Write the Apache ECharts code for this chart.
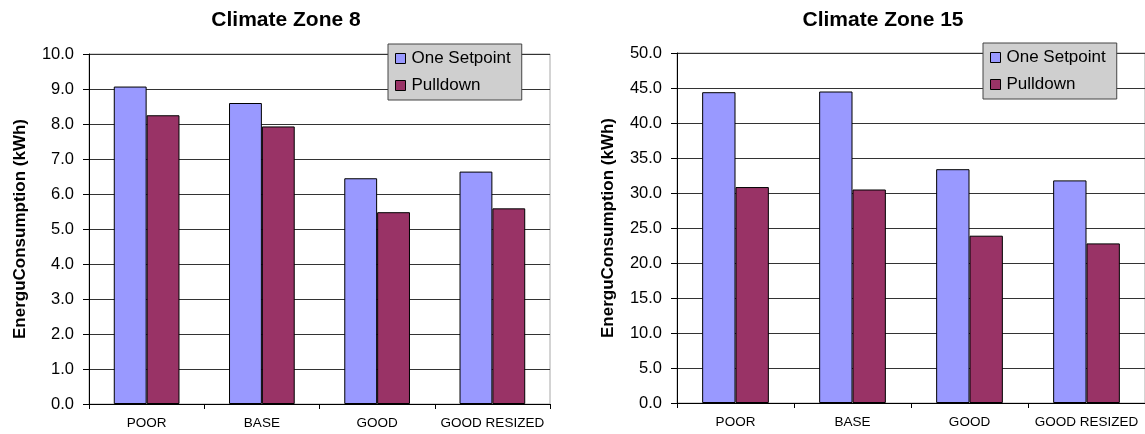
<!DOCTYPE html>
<html>
<head>
<meta charset="utf-8">
<script src="https://cdn.jsdelivr.net/npm/echarts@6/dist/echarts.min.js"></script>
<style>
html,body{margin:0;padding:0;background:#fff;}
#c{width:1145px;height:434px;}
</style>
</head>
<body>
<div id="c"></div>
<script>
const categories = ['POOR', 'BASE', 'GOOD', 'GOOD RESIZED'];
const seriesNames = ['One Setpoint', 'Pulldown'];
const zone8OneSetpoint = [9.07, 8.6, 6.45, 6.64];
const zone8Pulldown = [8.25, 7.93, 5.48, 5.59];
const zone15OneSetpoint = [44.4, 44.5, 33.4, 31.8];
const zone15Pulldown = [30.85, 30.5, 23.9, 22.8];
const titles = ['Climate Zone 8', 'Climate Zone 15'];
const yAxisName = 'EnerguConsumption (kWh)';

const FONT = '"Liberation Sans", Arial, sans-serif';
const colors = ['#9999FF', '#993366'];

function xAxis(gi) {
  return {
    type: 'category', gridIndex: gi, data: categories,
    axisLine: {lineStyle: {color: '#000', width: 1}},
    axisTick: {show: true, length: 5, alignWithLabel: false, lineStyle: {color: '#000'}},
    axisLabel: {color: '#000', fontFamily: FONT, fontSize: 13.5, margin: 12, interval: 0}
  };
}
function yAxis(gi, max, interval) {
  return {
    type: 'value', gridIndex: gi, min: 0, max: max, interval: interval,
    name: yAxisName, nameLocation: 'middle', nameGap: 60, nameRotate: 90,
    nameTextStyle: {color: '#000', fontFamily: FONT, fontSize: 17, fontWeight: 'bold'},
    axisLine: {show: true, lineStyle: {color: '#000', width: 1}},
    axisTick: {show: true, length: 6, lineStyle: {color: '#000'}},
    axisLabel: {color: '#000', fontFamily: FONT, fontSize: 16.5, margin: 15,
      formatter: v => v.toFixed(1)},
    splitLine: {show: true, lineStyle: {color: '#333', width: 1}}
  };
}
function bar(name, gi, data, color) {
  return {
    name: name, type: 'bar', xAxisIndex: gi, yAxisIndex: gi, data: data,
    barGap: '0%', barCategoryGap: '43%',
    itemStyle: {color: color, borderColor: '#000', borderWidth: 1},
    emphasis: {disabled: true}, animation: false
  };
}
function legend(left, top) {
  return {
    data: seriesNames, orient: 'vertical', left: left, top: top,
    backgroundColor: '#cfcfcf', borderColor: '#444', borderWidth: 1,
    padding: [6, 11, 6, 7], itemGap: 10, itemWidth: 10, itemHeight: 10,
    icon: 'rect', selectedMode: false,
    itemStyle: {borderColor: '#000', borderWidth: 1},
    textStyle: {color: '#000', fontFamily: FONT, fontSize: 17, padding: [0, 0, 0, 1]}
  };
}

const chart = echarts.init(document.getElementById('c'), null, {renderer: 'canvas'});
chart.setOption({
  backgroundColor: '#fff',
  animation: false,
  title: [
    {text: titles[0], left: 281, top: 5, textAlign: 'center',
      textStyle: {fontFamily: FONT, fontSize: 21, fontWeight: 'bold', color: '#000'}},
    {text: titles[1], left: 878, top: 5, textAlign: 'center',
      textStyle: {fontFamily: FONT, fontSize: 21, fontWeight: 'bold', color: '#000'}}
  ],
  legend: [legend(388, 44), legend(983, 43)],
  grid: [
    {left: 89, right: 595, top: 54, bottom: 30, show: true, borderColor: '#a8a8a8', borderWidth: 1, backgroundColor: 'transparent'},
    {left: 677, right: -4, top: 53, bottom: 31, show: true, borderColor: '#a8a8a8', borderWidth: 1, backgroundColor: 'transparent'}
  ],
  xAxis: [xAxis(0), xAxis(1)],
  yAxis: [yAxis(0, 10, 1), yAxis(1, 50, 5)],
  series: [
    bar(seriesNames[0], 0, zone8OneSetpoint, colors[0]),
    bar(seriesNames[1], 0, zone8Pulldown, colors[1]),
    bar(seriesNames[0], 1, zone15OneSetpoint, colors[0]),
    bar(seriesNames[1], 1, zone15Pulldown, colors[1])
  ]
});
</script>
</body>
</html>
